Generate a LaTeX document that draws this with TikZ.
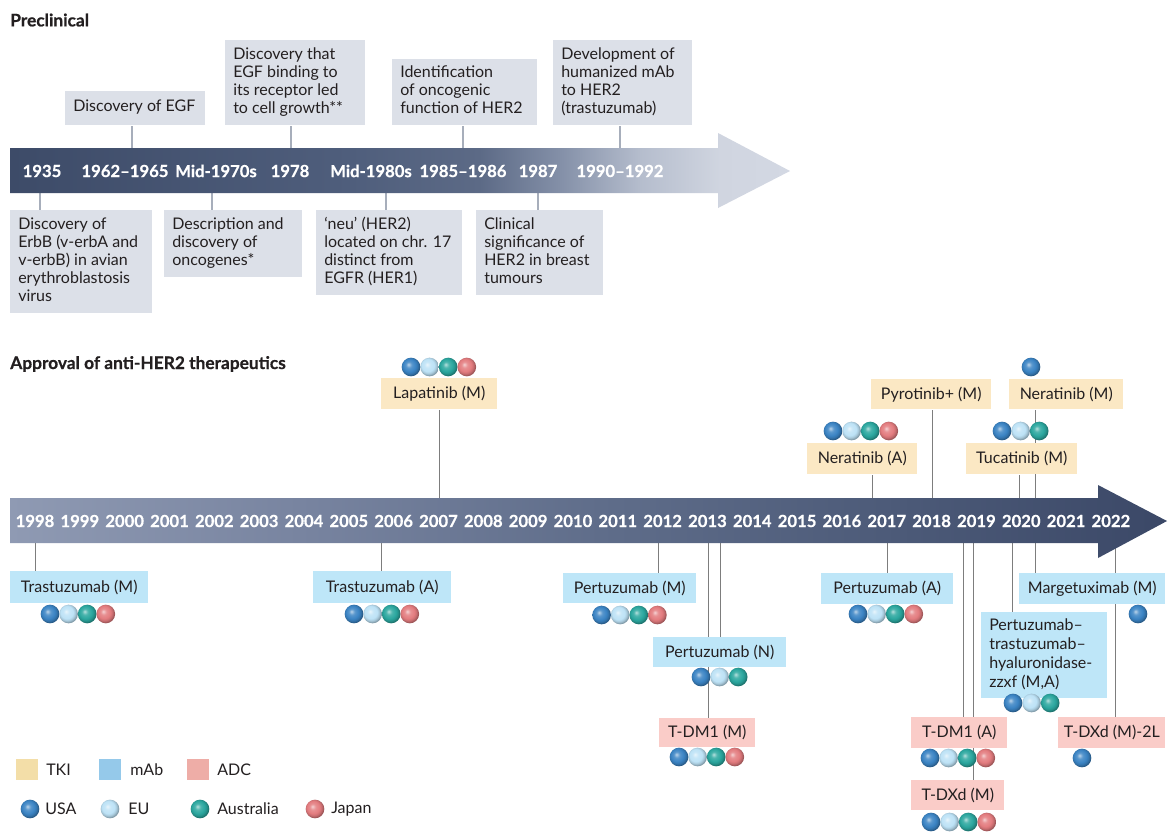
\documentclass[tikz,border=0pt]{standalone}
\usepackage{fontspec}
\setmainfont{Lato}
\newfontfamily\yrfont{Lato}[BoldFeatures={FakeBold=0.6}]
\usetikzlibrary{backgrounds}
\definecolor{txt}{HTML}{231F20}
\definecolor{preclr}{HTML}{DCE0E8}
\definecolor{plinec}{HTML}{A7AEBB}
\definecolor{blinec}{HTML}{7D7D7D}
\definecolor{tkic}{HTML}{FBE8C4}
\definecolor{mabc}{HTML}{BEE6F8}
\definecolor{adcc}{HTML}{FACCC8}
\definecolor{tkil}{HTML}{F3DEA8}
\definecolor{mabl}{HTML}{95C9EA}
\definecolor{adcl}{HTML}{EEADA7}
\definecolor{usa}{HTML}{3B84C4}
\definecolor{eu}{HTML}{BDE2F6}
\definecolor{aus}{HTML}{2BA79F}
\definecolor{jpn}{HTML}{E37C7F}
\definecolor{ta}{HTML}{3D4B68}
\definecolor{tb}{HTML}{4F5E7C}
\definecolor{tc}{HTML}{5C6A86}
\definecolor{td}{HTML}{8490A8}
\definecolor{te}{HTML}{B5BDCD}
\definecolor{tf}{HTML}{D0D5E0}
\definecolor{tg}{HTML}{D3D8E3}
\definecolor{ba}{HTML}{8F9AB3}
\definecolor{bb}{HTML}{7884A0}
\definecolor{bbc}{HTML}{5F6D8A}
\definecolor{bd}{HTML}{4C5A78}
\definecolor{be}{HTML}{3B4867}
\pgfdeclarehorizontalshading{topgrad}{100bp}{color(0bp)=(ta); color(25bp)=(ta); color(46.8bp)=(tb); color(55.1bp)=(tc); color(60.3bp)=(td); color(65.4bp)=(te); color(70.5bp)=(tf); color(75bp)=(tg); color(100bp)=(tg)}
\pgfdeclarehorizontalshading{botgrad}{100bp}{color(0bp)=(ba); color(25bp)=(ba); color(37.5bp)=(bb); color(50.5bp)=(bbc); color(63.4bp)=(bd); color(75bp)=(be); color(100bp)=(be)}
\colorlet{bc}{black}
\pgfdeclareradialshading[bc]{myball}{\pgfqpoint{-7bp}{7bp}}{color(0bp)=(bc!35!white); color(8bp)=(bc!85!white); color(17bp)=(bc); color(23bp)=(bc!85!black); color(25bp)=(bc!70!black); color(50bp)=(bc!70!black)}
\newcommand\lb[2]{\makebox[#1][l]{\begin{tabular}{@{}l@{}}#2\end{tabular}}}
\newcommand\ballrow[3]{\foreach \cc [count=\ii from 0] in {#3}{\colorlet{bc}{\cc}\shade[shading=myball] ({#1+18.6*\ii},#2) circle (7pt);}}
\tikzset{
  pbox/.style={anchor=north west, fill=preclr, inner xsep=6pt, inner ysep=0pt, text=txt, font=\fontsize{12}{13.5}\selectfont},
  dbox/.style={anchor=north west, inner sep=0pt, text=txt, font=\fontsize{12}{14.25}\selectfont},
  tki/.style={dbox, fill=tkic},
  mab/.style={dbox, fill=mabc},
  adc/.style={dbox, fill=adcc},
  yr/.style={text=white, font=\yrfont\bfseries\fontsize{12.5}{14}\selectfont, inner sep=0pt},
  ttl/.style={anchor=west, text=txt, font=\yrfont\bfseries\fontsize{13}{15}\selectfont, inner sep=0pt},
  pconn/.style={draw=plinec, line width=0.8pt},
  bconn/.style={draw=blinec, line width=0.7pt},
  legsq/.style={minimum width=16.5pt, minimum height=15.75pt, inner sep=0pt},
  legtx/.style={anchor=west, text=txt, font=\fontsize{12}{14}\selectfont, inner sep=0pt}
}
\begin{document}
\begin{tikzpicture}[x=0.75pt,y=-0.75pt]
\useasboundingbox (0,0) rectangle (1168,833);
% titles
\node[ttl] (t1) at (10,20) {Preclinical};
\node[ttl] (t2) at (10,364) {Approval of anti-HER2 therapeutics};
% arrows
\shade[shading=topgrad] (10,148) -- (718,148) -- (718,133) -- (790,171) -- (718,208) -- (718,193) -- (10,193) -- cycle;
\shade[shading=botgrad] (10,498) -- (1098,498) -- (1098,485) -- (1167,521) -- (1098,558) -- (1098,543) -- (10,543) -- cycle;
% top years
\node[yr] (y1935) at (42,171) {1935};
\node[yr] (y1962) at (125,171) {1962–1965};
\node[yr] (y1970) at (216,171) {Mid-1970s};
\node[yr] (y1978) at (290,171) {1978};
\node[yr] (y1980) at (371,171) {Mid-1980s};
\node[yr] (y1985) at (463,171) {1985–1986};
\node[yr] (y1987) at (538,171) {1987};
\node[yr] (y1990) at (620,171) {1990–1992};
% bottom years
\foreach \yy [count=\k from 0] in {1998,...,2022}
  \node[yr] (y\yy) at ({35+44.83*\k},521) {\yy};
% preclinical boxes
\node[pbox, minimum width=105pt, minimum height=25.5pt] (p1) at (65,91) {\lb{93pt}{Discovery of EGF}};
\node[pbox, minimum width=105pt, minimum height=63.75pt] (p2) at (225,40) {\lb{93pt}{Discovery that\\EGF binding to\\its receptor led\\to cell growth**}};
\node[pbox, minimum width=108.75pt, minimum height=49.5pt] (p3) at (392,59) {\lb{96.75pt}{Identification\\of oncogenic\\function of HER2}};
\node[pbox, minimum width=104.25pt, minimum height=63.75pt] (p4) at (553,40) {\lb{92.25pt}{Development of\\humanized mAb\\to HER2\\(trastuzumab)}};
\node[pbox, minimum width=106.5pt, minimum height=77.25pt] (b1) at (10,210) {\lb{94.5pt}{Discovery of\\ErbB (v-erbA and\\v-erbB) in avian\\erythroblastosis\\virus}};
\node[pbox, minimum width=103.5pt, minimum height=50.25pt] (b2) at (164,210) {\lb{91.5pt}{Description and\\discovery of\\oncogenes*}};
\node[pbox, minimum width=109.5pt, minimum height=63.75pt] (b3) at (316,210) {\lb{97.5pt}{‘neu’ (HER2)\\located on chr. 17\\distinct from\\EGFR (HER1)}};
\node[pbox, minimum width=95.25pt, minimum height=63.75pt] (b4) at (476,210) {\lb{83.25pt}{Clinical\\significance of\\HER2 in breast\\tumours}};
% approval boxes
\node[mab, minimum width=103.5pt, minimum height=24pt] (trm) at (10,571) {Trastuzumab (M)};
\node[mab, minimum width=103.5pt, minimum height=24pt] (tra) at (313,571) {Trastuzumab (A)};
\node[tki, minimum width=87pt, minimum height=23.25pt] (lap) at (381,378) {Lapatinib (M)};
\node[mab, minimum width=99.75pt, minimum height=22.5pt] (pem) at (563,573) {Pertuzumab (M)};
\node[mab, minimum width=99.75pt, minimum height=22.5pt] (pen) at (653,637) {Pertuzumab (N)};
\node[adc, minimum width=72pt, minimum height=21.75pt] (tdm) at (659,718) {T-DM1 (M)};
\node[tki, minimum width=82.5pt, minimum height=23.25pt] (nea) at (807,443) {Neratinib (A)};
\node[tki, minimum width=90pt, minimum height=22.5pt] (pyr) at (871,379) {Pyrotinib+ (M)};
\node[tki, minimum width=85.5pt, minimum height=22.5pt] (nem) at (1009,379) {Neratinib (M)};
\node[tki, minimum width=83.25pt, minimum height=23.25pt] (tuc) at (966,443) {Tucatinib (M)};
\node[mab, minimum width=99pt, minimum height=23.25pt] (pea) at (821,573) {Pertuzumab (A)};
\node[mab, minimum width=109.5pt, minimum height=23.25pt] (mar) at (1019,573) {Margetuximab (M)};
\node[mab, inner xsep=6pt, minimum width=94.5pt, minimum height=64.5pt] (pth) at (981,612) {\lb{82.5pt}{Pertuzumab–\\trastuzumab–\\hyaluronidase-\\zzxf (M,A)}};
\node[adc, minimum width=72pt, minimum height=23.25pt] (tda) at (911,717) {T-DM1 (A)};
\node[adc, minimum width=69.75pt, minimum height=22.5pt] (tdx) at (911,780) {T-DXd (M)};
\node[adc, minimum width=80.25pt, minimum height=23.25pt] (t2l) at (1058,717) {T-DXd (M)-2L};
% balls
\ballrow{50}{614}{usa,eu,aus,jpn}
\ballrow{354}{614}{usa,eu,aus,jpn}
\ballrow{411}{367}{usa,eu,aus,jpn}
\ballrow{601.6}{615}{usa,eu,aus,jpn}
\ballrow{701}{677}{usa,eu,aus}
\ballrow{679}{757}{usa,eu,aus,jpn}
\ballrow{833}{431}{usa,eu,aus,jpn}
\ballrow{1031}{367}{usa}
\ballrow{1002}{431}{usa,eu,aus}
\ballrow{858}{614}{usa,eu,aus,jpn}
\ballrow{1138}{614}{usa}
\ballrow{1013}{703}{usa,eu,aus}
\ballrow{930}{758}{usa,eu,aus,jpn}
\ballrow{931}{822}{usa,eu,aus,jpn}
\ballrow{1082}{758}{usa}
% legend
\node[legsq, fill=tkil] (ltki) at (27,769.5) {};
\node[legtx] (ltkit) at (46,770) {TKI};
\node[legsq, fill=mabl] (lmab) at (110,769.5) {};
\node[legtx] (lmabt) at (130,770) {mAb};
\node[legsq, fill=adcl] (ladc) at (198,769.5) {};
\node[legtx] (ladct) at (217,770) {ADC};
\ballrow{30}{809}{usa}
\node[legtx] (lusa) at (45,809) {USA};
\ballrow{110}{809}{eu}
\node[legtx] (leu) at (128,809) {EU};
\ballrow{200}{809}{aus}
\node[legtx] (laus) at (217,809) {Australia};
\ballrow{315}{809}{jpn}
\node[legtx] (ljpn) at (331,809) {Japan};
% connectors (behind boxes and arrows)
\begin{pgfonlayer}{background}
\fill[white] (0,0) rectangle (1168,833);
\coordinate (c1) at (132,148); \draw[pconn] (c1) -- (c1 |- p1.south);
\coordinate (c2) at (291,148); \draw[pconn] (c2) -- (c2 |- p2.south);
\coordinate (c3) at (463,148); \draw[pconn] (c3) -- (c3 |- p3.south);
\coordinate (c4) at (620,148); \draw[pconn] (c4) -- (c4 |- p4.south);
\coordinate (d1) at (40,193); \draw[pconn] (d1) -- (d1 |- b1.north);
\coordinate (d2) at (212,193); \draw[pconn] (d2) -- (d2 |- b2.north);
\coordinate (d3) at (386,193); \draw[pconn] (d3) -- (d3 |- b3.north);
\coordinate (d4) at (538,193); \draw[pconn] (d4) -- (d4 |- b4.north);
% above bottom arrow
\coordinate (e1) at (439,498); \draw[bconn] (e1) -- (e1 |- lap.south);
\coordinate (e2) at (872,498); \draw[bconn] (e2) -- (e2 |- nea.south);
\coordinate (e3) at (932,498); \draw[bconn] (e3) -- (e3 |- pyr.south);
\coordinate (e4) at (1019,498); \draw[bconn] (e4) -- (e4 |- tuc.south);
\coordinate (e5) at (1035,498); \draw[bconn] (e5) -- (e5 |- nem.south);
% below bottom arrow
\coordinate (f1) at (35,543); \draw[bconn] (f1) -- (f1 |- trm.north);
\coordinate (f2) at (381,543); \draw[bconn] (f2) -- (f2 |- tra.north);
\coordinate (f3) at (658,543); \draw[bconn] (f3) -- (f3 |- pem.north);
\coordinate (f4) at (708,543); \draw[bconn] (f4) -- (f4 |- tdm.north);
\coordinate (f5) at (720,543); \draw[bconn] (f5) -- (f5 |- pen.north);
\coordinate (f6) at (887,543); \draw[bconn] (f6) -- (f6 |- pea.north);
\coordinate (f7) at (963,543); \draw[bconn] (f7) -- (f7 |- tda.north);
\coordinate (f8) at (973,543); \draw[bconn] (f8) -- (f8 |- tdx.north);
\coordinate (f9) at (1012,543); \draw[bconn] (f9) -- (f9 |- pth.north);
\coordinate (f10) at (1035,543); \draw[bconn] (f10) -- (f10 |- mar.north);
\coordinate (f11) at (1115,543); \draw[bconn] (f11) -- (f11 |- t2l.north);
\end{pgfonlayer}
\end{tikzpicture}
\end{document}
